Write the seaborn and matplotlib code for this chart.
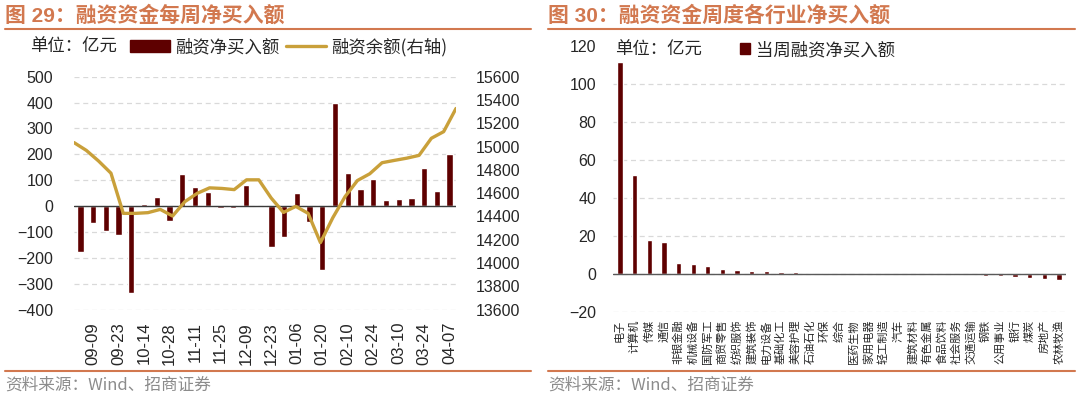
import matplotlib
matplotlib.use("Agg")
import matplotlib.pyplot as plt
from matplotlib.lines import Line2D
from matplotlib.patches import Patch
import numpy as np
import pandas as pd
import seaborn as sns

W, H = 1080, 398

BAR = "#5E0000"
GOLD = "#C9A03A"
TITLE = "#D2784F"
TEXT = "#262626"

# weekly net financing purchases (100m yuan)
weeks = ["09-02", "09-09", "09-16", "09-23", "09-30", "10-14", "10-21", "10-28",
         "11-04", "11-11", "11-18", "11-25", "12-02", "12-09", "12-16", "12-23",
         "12-30", "01-06", "01-13", "01-20", "02-03", "02-10", "02-17", "02-24",
         "03-03", "03-10", "03-17", "03-24", "03-31", "04-07"]
net_buy = [-177, -65, -96, -112, -337, 9, 33, -59, 124, 73, 54, -9, -9, 81, -5,
           -158, -121, 50, -63, -246, 399, 129, 67, 104, 22, 26, 31, 146, 59, 200]

# financing balance, right axis
balance = [15034, 14967, 14875, 14771, 14426, 14426, 14432, 14460, 14403, 14527,
           14598, 14645, 14640, 14630, 14714, 14714, 14558, 14434, 14486, 14426,
           14175, 14388, 14570, 14708, 14766, 14861, 14881, 14900, 14924, 15071,
           15128, 15327]

# industry net purchases this week
industries = ["电子", "计算机", "传媒", "通信", "非银金融", "机械设备", "国防军工",
              "商贸零售", "纺织服饰", "建筑装饰", "电力设备", "基础化工", "美容护理",
              "石油石化", "环保", "综合", "医药生物", "家用电器", "轻工制造", "汽车",
              "建筑材料", "有色金属", "食品饮料", "社会服务", "交通运输", "钢铁",
              "公用事业", "银行", "煤炭", "房地产", "农林牧渔"]
ind_net = [111.8, 52.1, 17.6, 16.5, 5.8, 5.1, 4.2, 2.5, 1.9, 1.6, 1.2, 1.0, 0.7,
           0.5, 0.3, 0.1, -0.05, -0.1, -0.2, -0.3, -0.4, -0.5, -0.6, -0.7, -0.8,
           -1.0, -1.2, -1.6, -2.5, -3.0, -3.5]

sns.set_theme(style="white")
plt.rcParams["font.family"] = ["Liberation Sans", "Noto Sans CJK SC", "DejaVu Sans"]
CJK = ["Noto Sans CJK SC", "DejaVu Sans"]

fig = plt.figure(figsize=(W / 100, H / 100), dpi=100)

GRID = dict(color="#D9D9D9", linestyle=(0, (4, 3)), linewidth=0.9)

# ---- left chart: bars + balance line ----
rect_l = [74 / W, 1 - 309.5 / H, 382 / W, 232.8 / H]
ax_l = fig.add_axes(rect_l)
df_l = pd.DataFrame({"week": weeks, "net": net_buy})
sns.barplot(data=df_l, x="week", y="net", color=BAR, saturation=1, width=0.5, ax=ax_l)
ax_l.set_xlim(-0.5, len(weeks) - 0.5)
ax_l.set_ylim(-400, 500)
ax_l.set_yticks(range(-400, 501, 100))
ax_l.set_xticks(range(1, len(weeks), 2))
ax_l.set_xticklabels(weeks[1::2], rotation=90)
ax_l.tick_params(axis="x", length=0, labelsize=12, pad=9, colors=TEXT)
ax_l.tick_params(axis="y", length=0, labelsize=11.5, pad=15, colors=TEXT)
ax_l.set_xlabel("")
ax_l.set_ylabel("")
ax_l.yaxis.grid(True, **GRID)
ax_l.set_axisbelow(True)
ax_l.axhline(0, color="#3A3A3A", lw=1)
sns.despine(ax=ax_l, left=True, bottom=True)

ax_b = fig.add_axes(rect_l)
ax_b.patch.set_visible(False)
sns.lineplot(x=np.arange(len(balance)), y=balance, color=GOLD, lw=2.4, ax=ax_b)
ax_b.set_xlim(0, len(balance) - 1)
ax_b.set_ylim(13600, 15600)
ax_b.set_yticks(range(13600, 15601, 200))
ax_b.yaxis.tick_right()
ax_b.set_xticks([])
ax_b.tick_params(axis="y", length=0, labelsize=11.5, pad=14, colors=TEXT)
for s in ax_b.spines.values():
    s.set_visible(False)

fig.text(30 / W, 1 - 47 / H, "单位：亿元", va="center", fontsize=12.5,
         color=TEXT, family=CJK)
handles = [Patch(color=BAR), Line2D([], [], color=GOLD, lw=2.4)]
fig.legend(handles, ["融资净买入额", "融资余额(右轴)"], loc="center left",
           bbox_to_anchor=(130 / W, 1 - 47 / H), ncol=2, frameon=False,
           prop={"family": CJK, "size": 12.5}, handlelength=2.3,
           handletextpad=0.3, columnspacing=0.4, borderaxespad=0, borderpad=0,
           labelcolor=TEXT)

# ---- right chart: industry bars ----
ax_i = fig.add_axes([612.7 / W, 1 - 311.6 / H, 453.6 / W, 265.2 / H])
df_r = pd.DataFrame({"industry": industries, "net": ind_net})
sns.barplot(data=df_r, x="industry", y="net", color=BAR, saturation=1, width=0.36, ax=ax_i)
ax_i.set_xlim(-0.5, len(industries) - 0.5)
ax_i.set_ylim(-20, 120)
ax_i.set_yticks(range(-20, 121, 20))
ax_i.set_xticks(range(len(industries)))
ax_i.set_xticklabels(industries, rotation=90, family=CJK)
ax_i.tick_params(axis="x", length=0, labelsize=8, pad=6, colors=TEXT)
ax_i.tick_params(axis="y", length=0, labelsize=11.5, pad=12, colors=TEXT)
ax_i.set_xlabel("")
ax_i.set_ylabel("")
ax_i.yaxis.grid(True, **GRID)
ax_i.yaxis.get_gridlines()[-1].set_visible(False)
ax_i.set_axisbelow(True)
ax_i.axhline(0, color="#595959", lw=1)
sns.despine(ax=ax_i, left=True, bottom=True)

fig.text(615 / W, 1 - 50 / H, "单位：亿元", va="center", fontsize=12.5,
         color=TEXT, family=CJK)
fig.legend([Patch(color=BAR)], ["当周融资净买入额"], loc="center left",
           bbox_to_anchor=(740 / W, 1 - 50 / H), frameon=False,
           prop={"family": CJK, "size": 12.5}, handlelength=0.6, handleheight=0.6,
           handletextpad=0.3, borderaxespad=0, borderpad=0, labelcolor=TEXT)

# ---- titles, rules and source notes ----
for x0, x1, title in [(5, 531, "图 29：融资资金每周净买入额"),
                      (548, 1075, "图 30：融资资金周度各行业净买入额")]:
    fig.text(x0 / W, 1 - 15 / H, title, va="center", fontsize=15,
             weight="bold", color=TITLE)
    fig.add_artist(Line2D([x0 / W, x1 / W], [1 - 29 / H] * 2, color=TITLE,
                          lw=1.5, transform=fig.transFigure))
    fig.add_artist(Line2D([x0 / W, x1 / W], [1 - 371 / H] * 2, color=TITLE,
                          lw=1.5, transform=fig.transFigure))
    fig.text(x0 / W, 1 - 385 / H, "资料来源：Wind、招商证券", va="center",
             fontsize=12, color="#8C8C8C", family=CJK)

fig.savefig("out.png", dpi=100)
plt.close(fig)
